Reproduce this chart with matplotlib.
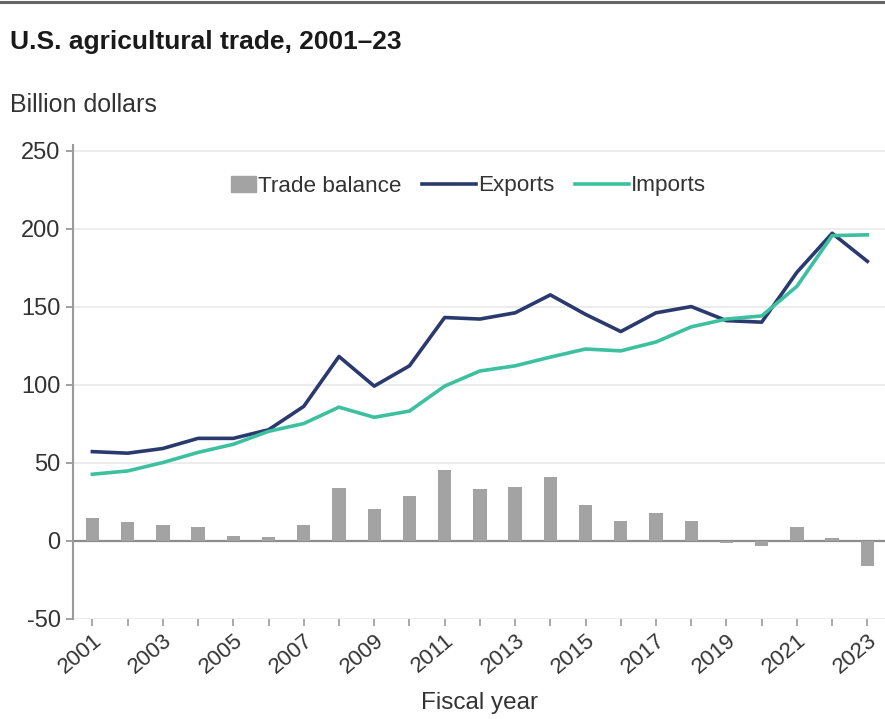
import matplotlib
matplotlib.use("Agg")
import matplotlib.pyplot as plt
from matplotlib.patches import Rectangle, Patch
from matplotlib.lines import Line2D
from matplotlib.legend_handler import HandlerPatch
import numpy as np

plt.rcParams['font.family'] = ['Liberation Sans', 'DejaVu Sans']

years = list(range(2001, 2024))
exports = [57, 56, 59, 65.5, 65.5, 71, 86, 118, 99, 112, 143, 142, 146, 157.5,
           145, 134, 146, 150, 141, 140, 172, 197, 179]
imports = [42.5, 44.6, 50, 56.5, 61.7, 70, 75, 85.5, 79, 83, 99, 108.7, 112, 117.6,
           122.8, 121.6, 127.3, 137, 142, 144, 163, 195.5, 196]
balance = [14.4, 11.6, 9.7, 8.6, 3.2, 2.2, 10, 33.4, 20.4, 28.5, 45, 32.8, 34.3, 41,
           22.5, 12.4, 17.6, 12.2, -1.5, -3.7, 8.6, 1.7, -16.5]
yticks = [-50, 0, 50, 100, 150, 200, 250]

c_exp = '#2a3a6e'
c_imp = '#3cc0a0'
c_bar = '#a3a3a3'
c_axis = '#9a9a9a'

fig = plt.figure(figsize=(8.85, 7.19), dpi=100)
ax = fig.add_axes([73/885, 1 - 618.5/719, 1 - 73/885, (618.5 - 145)/719])

for v in yticks:
    if v != 0:
        ax.axhline(v, color='#ebebeb', lw=1.3, zorder=0)
ax.axhline(0, color='#8c8c8c', lw=1.6, zorder=1)

ax.bar(years, balance, width=0.38, color=c_bar, zorder=2, label='Trade balance')
ax.plot(years, exports, color=c_exp, lw=2.6, zorder=3, label='Exports')
ax.plot(years, imports, color=c_imp, lw=2.6, zorder=3, label='Imports')

ax.set_xlim(2000.45, 2023.5)
ax.set_ylim(-50, 253.6)
ax.set_yticks(yticks)
ax.set_yticklabels([str(v) for v in yticks])
ax.set_xticks(years)
ax.set_xticklabels([str(y) if y % 2 == 1 else '' for y in years])

for s in ['top', 'right', 'bottom']:
    ax.spines[s].set_visible(False)
ax.spines['left'].set_color(c_axis)
ax.spines['left'].set_linewidth(1.5)
ax.tick_params(axis='y', colors=c_axis, length=5, width=1.3, labelsize=17,
               labelcolor='#333333', pad=4)
ax.tick_params(axis='x', colors=c_axis, length=5, width=1.2, labelsize=16,
               labelcolor='#333333', pad=3)
for lbl in ax.get_xticklabels():
    lbl.set_rotation(40)
    lbl.set_ha('right')
    lbl.set_va('top')
    lbl.set_rotation_mode('anchor')

def small_rect(legend, orig_handle, xdescent, ydescent, width, height, fontsize):
    w = 1.1 * fontsize
    return Rectangle((width - w - xdescent, -ydescent), w, height)

handles = [Patch(color=c_bar, label='Trade balance'),
           Line2D([], [], color=c_exp, lw=2.6, label='Exports'),
           Line2D([], [], color=c_imp, lw=2.6, label='Imports')]
leg = ax.legend(handles=handles, loc='center', bbox_to_anchor=((454 - 73)/812, (719 - 186 - 100.5)/473.5),
                ncol=3, frameon=False, fontsize=16.2, handlelength=2.4, handletextpad=0.1,
                columnspacing=0.9, handler_map={Patch: HandlerPatch(patch_func=small_rect)})
for t in leg.get_texts():
    t.set_color('#333333')

fig.text(10/885, 1 - 42/719, 'U.S. agricultural trade, 2001–23', fontsize=19,
         fontweight='bold', color='#1a1a1a', va='center', ha='left')
fig.text(10/885, 1 - 105/719, 'Billion dollars', fontsize=18, color='#333333',
         va='center', ha='left')
fig.text(479/885, 1 - 703/719, 'Fiscal year', fontsize=17.5, color='#333333',
         va='center', ha='center')

fig.add_artist(Line2D([0, 1], [1 - 1.5/719, 1 - 1.5/719], transform=fig.transFigure,
                      color='#666666', lw=2.2))

fig.savefig('out.png', dpi=100, facecolor='white')
